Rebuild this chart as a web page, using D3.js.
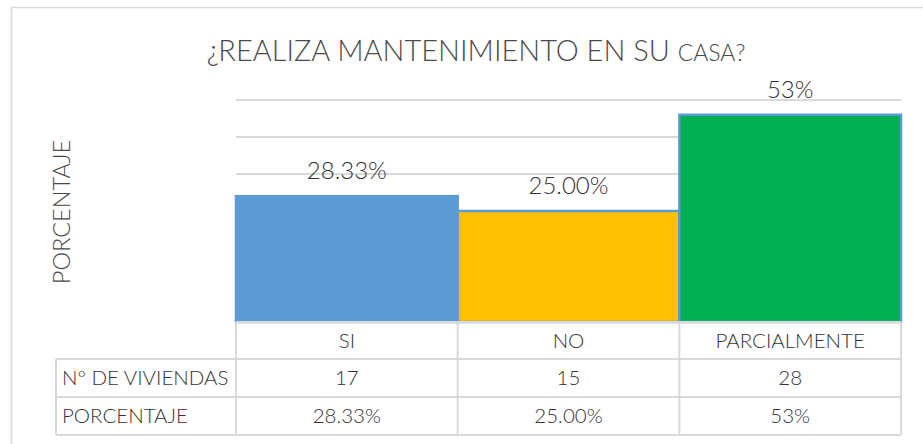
<!DOCTYPE html>
<html>
<head>
<meta charset="utf-8">
<script src="https://cdn.jsdelivr.net/npm/d3@7"></script>
<style>
  html, body { margin: 0; padding: 0; background: #fff; }
  svg { display: block; font-family: Lato, "Open Sans", sans-serif; font-weight: 300; }
</style>
</head>
<body>
<svg id="chart" width="923" height="444"></svg>
<script>
const categories = ["SI", "NO", "PARCIALMENTE"];
const viviendas = [17, 15, 28];
const porcentajeLabels = ["28.33%", "25.00%", "53%"];
const colors = ["#5B9BD5", "#FFC000", "#00B050"];
const yTicks = [0, 5, 10, 15, 20, 25, 30];
const rowNames = ["N° DE VIVIENDAS", "PORCENTAJE"];
const titleMain = "¿REALIZA MANTENIMIENTO EN SU ";
const titleSmall = "CASA?";
const yTitle = "PORCENTAJE";

const svg = d3.select("#chart");
const textColor = "#333333";
const gridColor = "#D9D9D9";

// outer frame
svg.append("rect").attr("x", 11.5).attr("y", 7.5).attr("width", 940).attr("height", 460)
  .attr("fill", "none").attr("stroke", gridColor).attr("stroke-width", 1.5);

const plotLeft = 236, plotRight = 901, plotTop = 100, plotBottom = 322;

const x = d3.scaleBand().domain(categories).range([plotLeft, plotRight]).padding(0);
const y = d3.scaleLinear().domain([0, 30]).range([plotBottom, plotTop]);

// gridlines
svg.append("g").selectAll("line").data(yTicks).join("line")
  .attr("x1", plotLeft).attr("x2", plotRight)
  .attr("y1", d => y(d)).attr("y2", d => y(d))
  .attr("stroke", gridColor).attr("stroke-width", 2);

// bars
svg.append("g").selectAll("rect").data(categories).join("rect")
  .attr("x", d => x(d))
  .attr("y", (d, i) => y(viviendas[i]))
  .attr("width", x.bandwidth())
  .attr("height", (d, i) => y(0) - y(viviendas[i]))
  .attr("fill", (d, i) => colors[i])
  .attr("stroke", "#5B9BD5").attr("stroke-width", 2.5);

// data labels
svg.append("g").selectAll("text").data(categories).join("text")
  .attr("x", d => x(d) + x.bandwidth() / 2)
  .attr("y", (d, i) => y(viviendas[i]) - 17)
  .attr("text-anchor", "middle")
  .attr("font-size", 24).attr("fill", textColor)
  .text((d, i) => porcentajeLabels[i]);

// title
const title = svg.append("text").attr("x", 476).attr("y", 61)
  .attr("text-anchor", "middle").attr("fill", "#4a4a4a").attr("font-size", 29);
title.append("tspan").text(titleMain);
title.append("tspan").attr("font-size", 23).text(titleSmall);

// y axis title
svg.append("text")
  .attr("transform", `translate(70,${212}) rotate(-90)`)
  .attr("text-anchor", "middle").attr("fill", "#4a4a4a").attr("font-size", 23.5)
  .text(yTitle);

// data table
const rowY = [322, 359, 397, 435];
const tableLeft = 56;
const tg = svg.append("g").attr("stroke", gridColor).attr("stroke-width", 2);
tg.append("line").attr("x1", plotLeft).attr("x2", plotRight).attr("y1", rowY[0]).attr("y2", rowY[0]);
[1, 2, 3].forEach(r => {
  tg.append("line").attr("x1", tableLeft).attr("x2", plotRight).attr("y1", rowY[r]).attr("y2", rowY[r]);
});
const colEdges = [plotLeft].concat(categories.map(c => x(c) + x.bandwidth()));
colEdges.forEach(cx => {
  tg.append("line").attr("x1", cx).attr("x2", cx).attr("y1", rowY[0]).attr("y2", rowY[3]);
});
tg.append("line").attr("x1", tableLeft).attr("x2", tableLeft).attr("y1", rowY[1]).attr("y2", rowY[3]);

const fs = 20.5;
svg.append("g").selectAll("text").data(categories).join("text")
  .attr("x", d => x(d) + x.bandwidth() / 2).attr("y", (rowY[0] + rowY[1]) / 2 + 7)
  .attr("text-anchor", "middle").attr("font-size", fs).attr("fill", textColor).text(d => d);
svg.append("g").selectAll("text").data(rowNames).join("text")
  .attr("x", tableLeft + 6).attr("y", (d, i) => (rowY[i + 1] + rowY[i + 2]) / 2 + 7)
  .attr("font-size", fs).attr("fill", textColor).text(d => d);
const rowsData = [viviendas.map(String), porcentajeLabels];
rowsData.forEach((row, r) => {
  svg.append("g").selectAll("text").data(row).join("text")
    .attr("x", (d, i) => x(categories[i]) + x.bandwidth() / 2)
    .attr("y", (rowY[r + 1] + rowY[r + 2]) / 2 + 7)
    .attr("text-anchor", "middle").attr("font-size", fs).attr("fill", textColor).text(d => d);
});
</script>
</body>
</html>
